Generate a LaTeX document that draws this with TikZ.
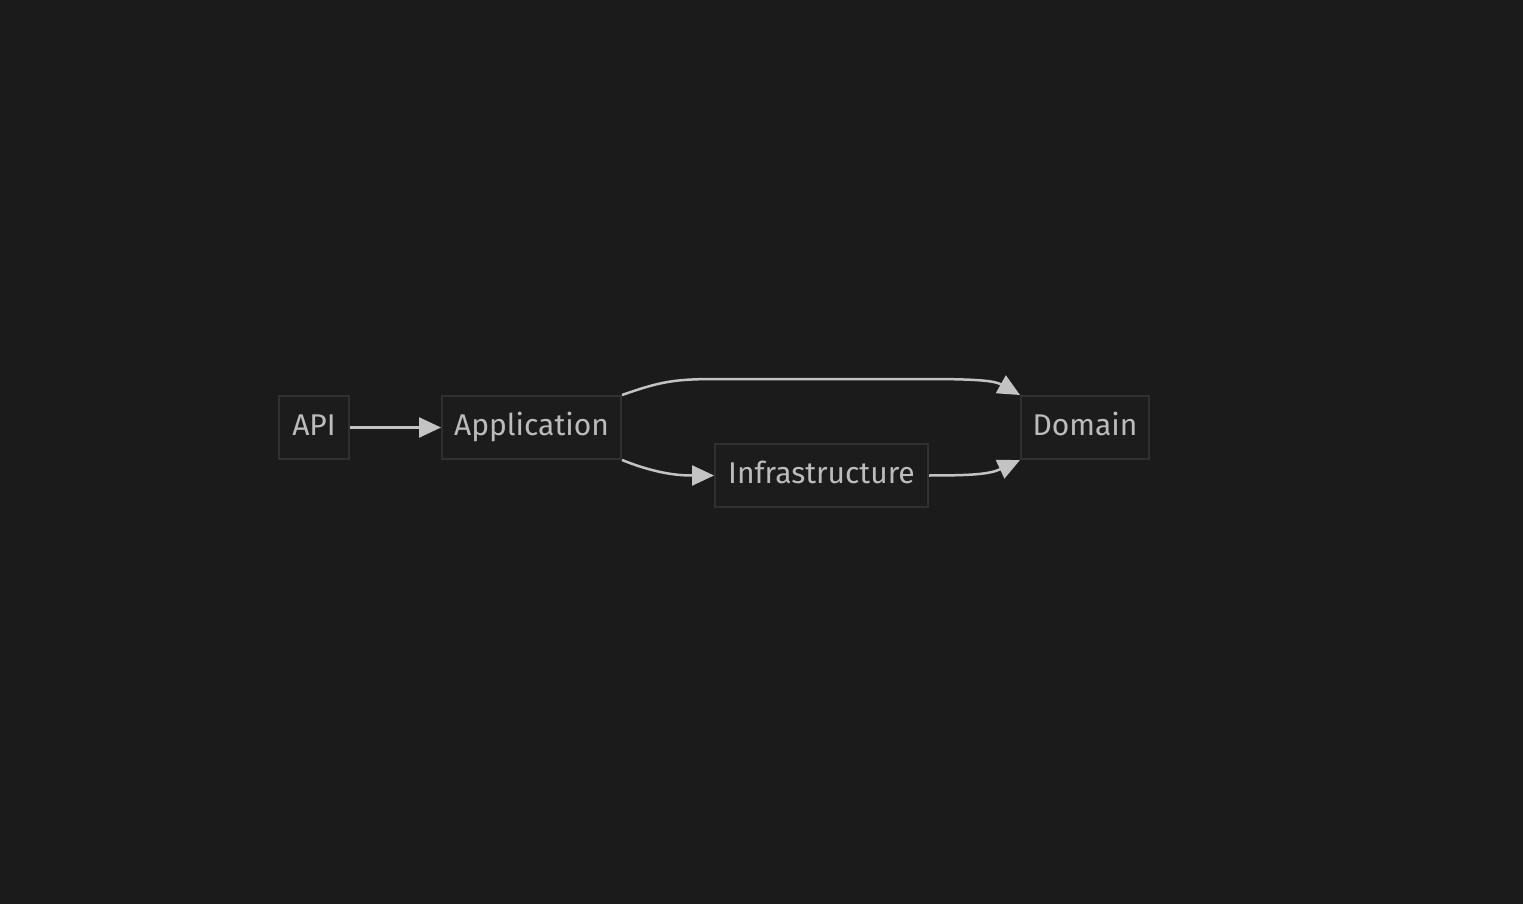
\documentclass[tikz,border=0pt]{standalone}
\usepackage{fontspec}
\setmainfont{Fira Sans}
\usetikzlibrary{arrows.meta}
\definecolor{canvas}{RGB}{27,27,27}
\definecolor{boxfill}{RGB}{28,28,28}
\definecolor{boxline}{RGB}{48,48,48}
\definecolor{label}{RGB}{188,188,188}
\definecolor{wire}{RGB}{195,195,195}

\begin{document}
\begin{tikzpicture}[
  x=0.5pt, y=-0.5pt,
  every node/.style={font=\fontsize{15}{17}\selectfont, text=label},
  layerbox/.style={draw=boxline, fill=boxfill, line width=1pt,
               minimum height=31.5pt, inner sep=0pt,
               text height=1.6ex, text depth=0pt},
  edge/.style={draw=wire, line width=1.25pt, -{Triangle[length=11pt,width=10pt]}},
]

\fill[canvas] (0,0) rectangle (1523,904);

\node[layerbox, minimum width=35pt] (api) at (314, 427.5) {API};
\node[layerbox, minimum width=89.5pt] (app) at (531.5, 427.5) {Application};
\node[layerbox, minimum width=106.5pt] (infra) at (821.5, 475.5) {Infrastructure};
\node[layerbox, minimum width=64pt] (dom) at (1085, 427.5) {Domain};

\draw[edge] (api) -- (app);
\draw[edge] (app.north east) .. controls +(40,-14) and +(-45,0) .. (720,379)
  -- (925,379) .. controls +(55,0) and +(-25,-14) .. (dom.north west);
\draw[edge] (app.south east) .. controls +(35,14) and +(-35,0) .. (infra.west);
\draw[edge] (infra.east) .. controls +(45,0) and +(-30,14) .. (dom.south west);

\end{tikzpicture}
\end{document}
